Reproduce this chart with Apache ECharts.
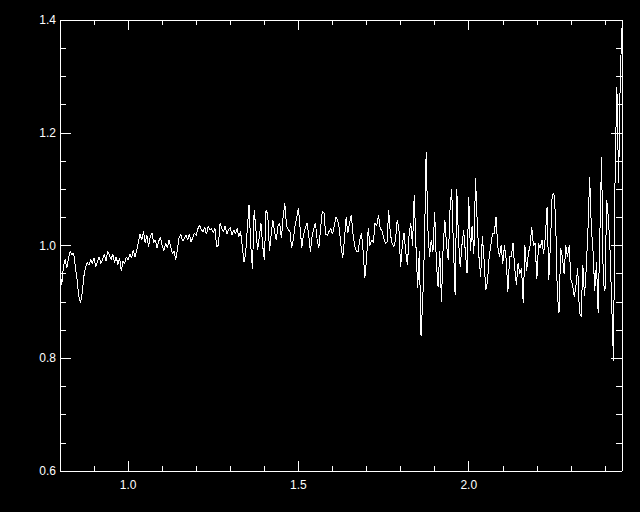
<!DOCTYPE html>
<html>
<head>
<meta charset="utf-8">
<script src="https://cdn.jsdelivr.net/npm/echarts@6/dist/echarts.min.js"></script>
<style>
html,body{margin:0;padding:0;background:#000;}
#c{width:640px;height:512px;}
#c svg path{shape-rendering:crispEdges;}
</style>
</head>
<body>
<div id="c"></div>
<script>
// wavelength grid: start and step of the samples
var xStart = 0.8;
var xStep = 0.005;
// flux values
var flux = [
 0.955,0.93,0.962,0.975,0.96,0.978,0.99,0.983,0.987,0.962,
 0.94,0.91,0.898,0.915,0.945,0.962,0.97,0.965,0.975,0.968,
 0.978,0.962,0.972,0.98,0.968,0.975,0.985,0.972,0.99,0.983,
 0.975,0.985,0.97,0.98,0.966,0.978,0.955,0.972,0.968,0.98,
 0.975,0.985,0.978,0.992,0.98,0.99,1.005,1.02,1.01,1.025,
 1.005,1.018,0.998,1.015,1.022,1.005,1.01,0.995,1.008,1.015,
 1.0,0.99,1.005,0.995,1.01,0.998,0.985,0.99,0.975,0.995,
 1.015,1.02,1.008,1.012,1.018,1.01,1.02,1.006,1.015,1.022,
 1.018,1.03,1.036,1.028,1.025,1.032,1.02,1.034,1.028,1.03,
 1.022,1.03,0.998,1.0,1.04,1.03,1.025,1.035,1.02,1.028,
 1.032,1.018,1.028,1.02,1.03,1.015,1.025,1.0,0.97,0.985,
 1.03,1.072,1.0,0.958,1.063,1.03,0.992,1.015,1.04,1.0,
 0.974,1.063,1.055,0.99,1.02,1.045,1.025,1.01,1.035,1.04,
 1.013,1.05,1.075,1.035,1.028,1.025,0.995,1.01,1.035,1.05,
 1.066,1.03,0.996,1.02,1.03,1.04,1.02,0.989,1.015,1.03,
 1.04,1.01,0.996,1.03,1.06,1.058,1.02,1.018,1.025,1.03,
 1.02,1.035,1.05,1.045,1.03,1.0,0.978,1.01,1.05,1.022,
 1.04,1.054,1.022,1.0,0.99,0.989,1.01,1.022,0.99,0.942,
 0.975,1.031,1.0,1.01,1.005,1.04,1.035,1.054,1.03,1.027,
 1.015,1.004,1.005,1.063,1.02,1.004,0.998,1.01,1.045,1.03,
 0.962,1.0,1.022,0.99,0.965,1.02,1.04,1.0,1.09,1.0,
 0.925,0.99,0.84,0.903,1.0,1.165,1.03,0.98,1.01,0.989,
 1.06,0.97,0.927,0.99,0.9,1.0,1.045,1.0,0.974,1.063,
 1.1,1.0,0.912,1.1,1.01,0.962,1.0,1.027,0.99,0.951,
 1.086,0.99,1.035,0.985,1.119,1.04,0.98,0.945,1.016,0.975,
 0.921,0.935,0.98,1.0,1.022,1.02,1.051,1.0,0.98,1.0,
 0.968,1.0,0.975,0.918,0.98,0.98,1.004,0.96,0.93,0.969,
 0.95,0.96,0.898,1.0,0.955,0.985,1.0,1.033,1.0,1.005,
 0.94,1.004,0.995,1.01,0.985,1.016,1.069,0.939,1.005,1.09,
 1.093,1.051,0.916,0.88,0.995,0.98,0.95,1.0,0.98,1.0,
 0.94,0.93,0.909,0.93,0.96,0.88,0.874,0.965,0.91,0.96,
 1.027,1.122,1.03,0.99,0.92,0.97,0.88,1.02,1.157,0.934,
 0.92,1.081,1.05,0.99,0.892,0.795,1.146,1.281,1.11,1.305,
 1.385
];
// axis ranges and ticks
var xMin = 0.8, xMax = 2.45;
var yMin = 0.6, yMax = 1.4;
var xMajorTicks = [1.0, 1.5, 2.0];
var xMinorTicks = [0.9, 1.0, 1.1, 1.2, 1.3, 1.4, 1.5, 1.6, 1.7, 1.8, 1.9, 2.0, 2.1, 2.2, 2.3, 2.4];
var yMajorTicks = [0.6, 0.8, 1.0, 1.2, 1.4];
var yMinorTicks = [0.65, 0.7, 0.75, 0.85, 0.9, 0.95, 1.05, 1.1, 1.15, 1.25, 1.3, 1.35];

var pts = flux.map(function (v, i) { return [+(xStart + i * xStep).toFixed(4), v]; });

var W = '#ffffff';
var FONT = 'Liberation Sans';
function xAx(pos, ticks, len, labels) {
  return {
    type: 'value', position: pos, min: xMin, max: xMax,
    axisLine: { show: true, onZero: false, lineStyle: { color: W, width: 1 } },
    axisTick: { show: true, inside: true, length: len, customValues: ticks, lineStyle: { color: W, width: 1 } },
    axisLabel: labels ? { show: true, customValues: ticks, color: W, fontSize: 12, fontFamily: FONT, margin: 8,
      formatter: function (v) { return v.toFixed(1); } } : { show: false },
    splitLine: { show: false }
  };
}
function yAx(pos, ticks, len, labels) {
  return {
    type: 'value', position: pos, min: yMin, max: yMax,
    axisLine: { show: true, onZero: false, lineStyle: { color: W, width: 1 } },
    axisTick: { show: true, inside: true, length: len, customValues: ticks, lineStyle: { color: W, width: 1 } },
    axisLabel: labels ? { show: true, customValues: ticks, color: W, fontSize: 12, fontFamily: FONT, margin: 4,
      formatter: function (v) { return v.toFixed(1); } } : { show: false },
    splitLine: { show: false }
  };
}

var chart = echarts.init(document.getElementById('c'), null, { renderer: 'svg' });
chart.setOption({
  backgroundColor: '#000000',
  animation: false,
  grid: { left: 60, right: 18, top: 20, bottom: 41, containLabel: false, outerBoundsMode: 'none' },
  xAxis: [
    xAx('bottom', xMajorTicks, 10, true),
    xAx('bottom', xMinorTicks, 5, false),
    xAx('top', xMajorTicks, 10, false),
    xAx('top', xMinorTicks, 5, false)
  ],
  yAxis: [
    yAx('left', yMajorTicks, 11, true),
    yAx('left', yMinorTicks, 6, false),
    yAx('right', yMajorTicks, 11, false),
    yAx('right', yMinorTicks, 6, false)
  ],
  series: [{
    type: 'line', xAxisIndex: 0, yAxisIndex: 0, data: pts,
    showSymbol: false, symbol: 'none', smooth: false,
    lineStyle: { color: W, width: 1 }, clip: true
  }]
});
</script>
</body>
</html>
